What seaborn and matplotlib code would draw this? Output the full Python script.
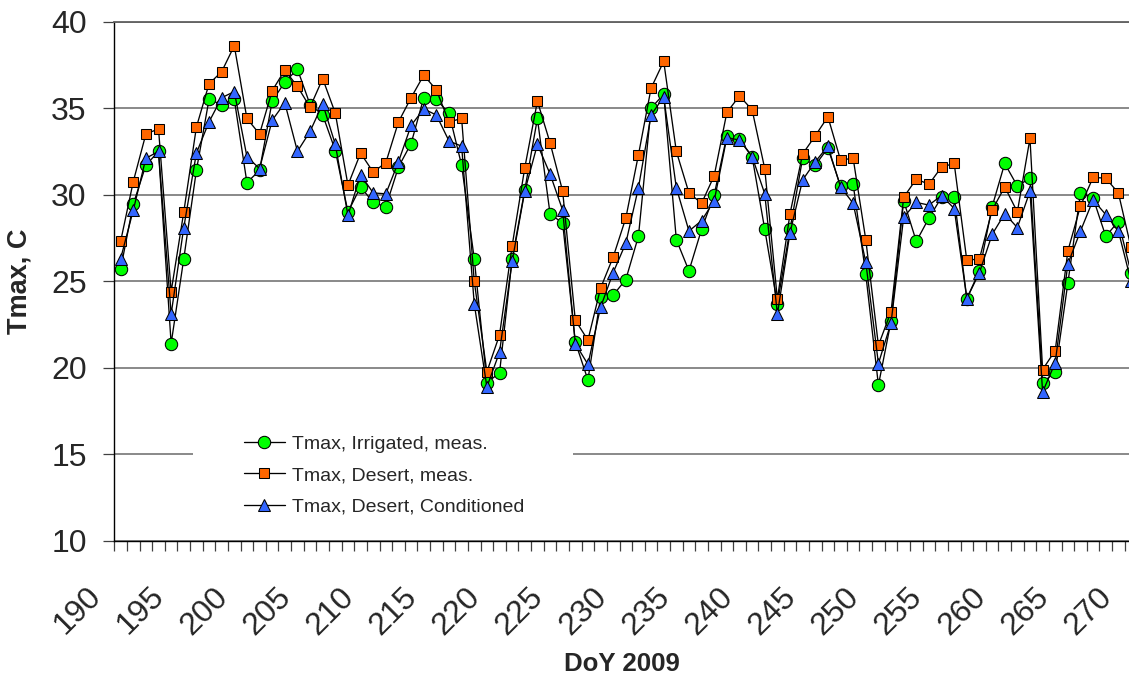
import numpy as np
import matplotlib
matplotlib.use("Agg")
import matplotlib.pyplot as plt
from matplotlib.ticker import MultipleLocator
from matplotlib.patches import Rectangle
from matplotlib.transforms import ScaledTranslation
import seaborn as sns

# Daily maximum air temperature, DoY 2009 (values plotted at mid-day of each day)
doy = np.arange(190.5, 271.0, 1.0)

tmax_irrigated = [
    25.7, 29.45, 31.7, 32.5, 21.4, 26.3, 31.4, 35.5, 35.2, 35.5,
    30.7, 31.4, 35.4, 36.5, 37.25, 35.2, 34.6, 32.55, 29.0, 30.45,
    29.55, 29.3, 31.6, 32.95, 35.6, 35.5, 34.7, 31.7, 26.3, 19.15,
    19.7, 26.3, 30.27, 34.4, 28.9, 28.35, 21.5, 19.3, 24.07, 24.2,
    25.1, 27.6, 35.0, 35.8, 27.4, 25.6, 28.0, 30.0, 33.4, 33.2,
    32.2, 28.0, 23.7, 28.0, 32.1, 31.7, 32.7, 30.5, 30.6, 25.4,
    19.0, 22.7, 29.65, 27.3, 28.65, 29.85, 29.85, 24.0, 25.6, 29.3,
    31.8, 30.5, 30.95, 19.15, 19.75, 24.9, 30.1, 29.8, 27.6, 28.45,
    25.5,
]

tmax_desert = [
    27.3, 30.75, 33.5, 33.8, 24.4, 29.0, 33.9, 36.4, 37.1, 38.6,
    34.4, 33.5, 36.0, 37.2, 36.25, 35.05, 36.7, 34.7, 30.55, 32.4,
    31.3, 31.85, 34.2, 35.6, 36.9, 36.05, 34.2, 34.4, 25.0, 19.77,
    21.9, 27.05, 31.55, 35.4, 33.0, 30.2, 22.75, 21.6, 24.6, 26.4,
    28.65, 32.3, 36.15, 37.7, 32.5, 30.1, 29.5, 31.1, 34.75, 35.7,
    34.9, 31.5, 23.97, 28.9, 32.35, 33.4, 34.5, 32.0, 32.1, 27.4,
    21.3, 23.25, 29.85, 30.9, 30.6, 31.6, 31.8, 26.2, 26.3, 29.1,
    30.45, 29.0, 33.25, 19.9, 21.0, 26.75, 29.35, 31.0, 30.95, 30.1,
    26.95,
]

tmax_conditioned = [
    26.3, 29.1, 32.1, 32.5, 23.1, 28.1, 32.4, 34.2, 35.6, 35.95,
    32.2, 31.5, 34.3, 35.3, 32.5, 33.65, 35.25, 32.9, 28.8, 31.15,
    30.1, 30.05, 31.9, 34.0, 34.95, 34.6, 33.1, 32.8, 23.7, 18.9,
    20.9, 26.15, 30.2, 32.9, 31.2, 29.1, 21.4, 20.2, 23.5, 25.5,
    27.2, 30.4, 34.6, 35.65, 30.4, 27.9, 28.5, 29.65, 33.3, 33.15,
    32.2, 30.05, 23.1, 27.8, 30.85, 31.9, 32.8, 30.45, 29.5, 26.1,
    20.25, 22.6, 28.7, 29.55, 29.4, 29.95, 29.2, 24.0, 25.5, 27.7,
    28.9, 28.1, 30.2, 18.6, 20.3, 26.0, 27.9, 29.7, 28.85, 27.9,
    25.0,
]

series_labels = [
    "Tmax, Irrigated, meas.",
    "Tmax, Desert, meas.",
    "Tmax, Desert, Conditioned",
]
x_ticks = list(range(190, 271, 5))
y_ticks = list(range(10, 41, 5))

sns.set_style("white")
plt.rcParams["font.family"] = ["Liberation Sans", "DejaVu Sans"]

DPI = 100
fig = plt.figure(figsize=(11.29, 6.77), dpi=DPI)
W, H = 1129.0, 677.0
px_day = 12.63
ax_left, ax_top, ax_bottom = 114.3, 21.5, 541.0
ax_width = 81 * px_day
ax = fig.add_axes([ax_left / W, 1 - ax_bottom / H, ax_width / W,
                   (ax_bottom - ax_top) / H])

styles = [
    dict(marker="o", markersize=8.9, markerfacecolor="#00FF00", zorder=3),
    dict(marker="s", markersize=7.2, markerfacecolor="#FF6600", zorder=4),
    dict(marker="^", markersize=8.8, markerfacecolor="#3366FF", zorder=5),
]
for values, label, st in zip([tmax_irrigated, tmax_desert, tmax_conditioned],
                             series_labels, styles):
    sns.lineplot(x=doy, y=values, ax=ax, color="black", linewidth=0.95,
                 markeredgecolor="black", markeredgewidth=0.75,
                 label=label, legend=False, **st)

ax.set_xlim(190, 271)
ax.set_ylim(10, 40)
ax.set_xticks(x_ticks)
ax.xaxis.set_minor_locator(MultipleLocator(1))
ax.set_yticks(y_ticks)

ax.set_axisbelow(True)
ax.yaxis.grid(True, color="#808080", linewidth=1.3, zorder=0)
ax.xaxis.grid(False)

ax.spines["right"].set_visible(False)
ax.spines["top"].set_color("#606060")
ax.spines["top"].set_linewidth(1.3)
ax.spines["left"].set_color("black")
ax.spines["left"].set_linewidth(1.0)
ax.spines["bottom"].set_color("black")
ax.spines["bottom"].set_linewidth(1.0)

ax.tick_params(axis="x", which="both", direction="out", length=7.2, width=0.9,
               color="#404040", bottom=True, labelsize=23, pad=22)
ax.tick_params(axis="y", which="major", direction="out", length=7.9, width=0.9,
               color="#404040", left=True, labelsize=23, pad=12)

shift = ScaledTranslation(-28 / DPI, 0, fig.dpi_scale_trans)
for lab in ax.get_xticklabels():
    lab.set_rotation(45)
    lab.set_ha("right")
    lab.set_va("top")
    lab.set_rotation_mode("anchor")
    lab.set_transform(lab.get_transform() + shift)

ax.set_xlabel("DoY 2009", fontsize=18.6, fontweight="bold")
ax.xaxis.set_label_coords(0.496, -0.2137)
ax.set_ylabel("Tmax, C", fontsize=19.5, fontweight="bold")
ax.yaxis.set_label_coords(-0.0795, 0.5)

# White legend background interrupting the gridline
ax.add_patch(Rectangle((0.0769, 0.025), 0.3715, 0.208, transform=ax.transAxes,
                       facecolor="white", edgecolor="none", zorder=1))
ax.legend(loc="upper left", bbox_to_anchor=(0.1268, 0.2037), frameon=False,
          fontsize=14, handlelength=2.1, handletextpad=0.35, labelspacing=0.71,
          borderpad=0, borderaxespad=0, numpoints=1)

fig.savefig("out.png", dpi=DPI)
